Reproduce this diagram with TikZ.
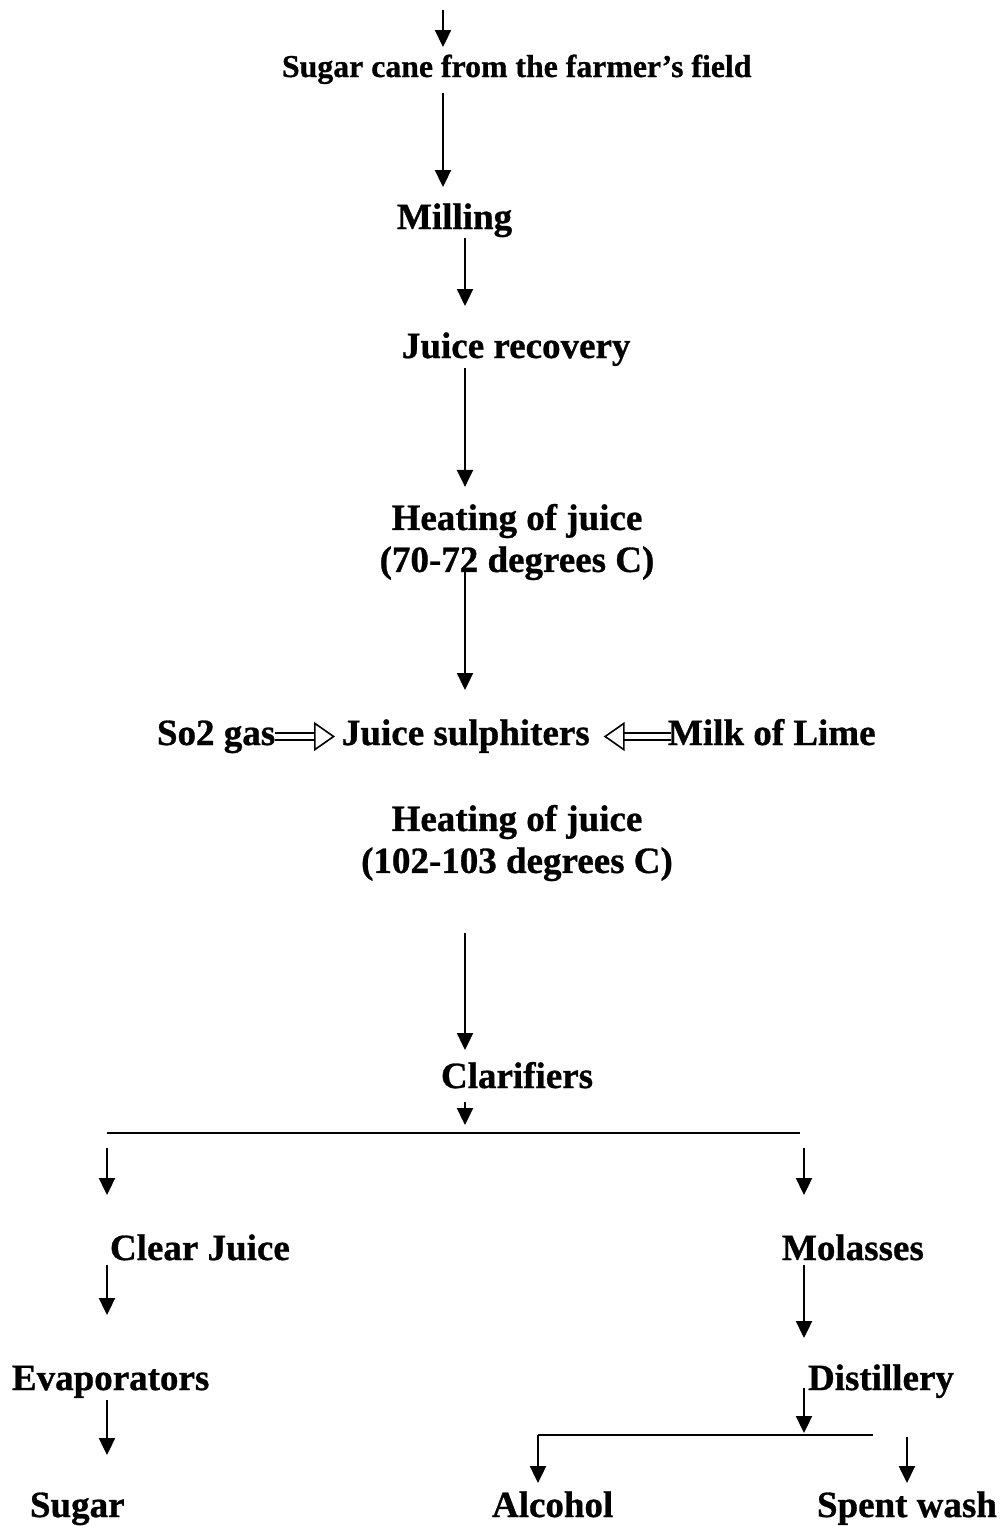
\documentclass[tikz,border=0pt]{standalone}
\usepackage{fontspec}
\setmainfont{Liberation Serif}[BoldFeatures={FakeBold=0.8}]
\usetikzlibrary{positioning, arrows.meta, calc}
\tikzset{
    stage/.style={
        font=\bfseries\fontsize{37}{42}\selectfont,
        inner sep=0pt, outer sep=0pt,
        text height=25pt, text depth=8pt
    },
    stage-two/.style={
        font=\bfseries\fontsize{37}{42}\selectfont,
        inner sep=0pt, outer sep=0pt, align=center
    },
    stage-top/.style={
        stage, font=\bfseries\fontsize{31.8}{36}\selectfont,
        text height=21pt, text depth=7pt
    },
    pipe/.style={
        -{Triangle[length=17pt, width=16pt]},
        line width=2.3pt, draw=black
    },
    feed/.style={
        double, double distance=5pt, line width=1.6pt,
        -{Triangle[open, length=21pt, width=29pt, line width=1.6pt]}
    },
    splitline/.style={line width=1.8pt, draw=black},
}

\begin{document}
\begin{tikzpicture}[x=1pt, y=-1pt]
\useasboundingbox (0,0) rectangle (1004,1526);

% ---- arrow columns ----
\coordinate (colA) at (443,0);
\coordinate (colB) at (465,0);
\coordinate (colL) at (107,0);
\coordinate (colR) at (804,0);

% ---- cane to clarifiers ----
\coordinate (start) at (443,10);
\node[stage-top, anchor=base west] (cane) at (282,77) {Sugar cane from the farmer’s field};
\node[stage, anchor=base west] (mill) at (397,229) {Milling};
\node[stage, anchor=base west] (recov) at (402,358) {Juice recovery};
\node[stage-two] (heat1) at (517,542) {Heating of juice\\(70-72 degrees C)};
\node[stage, anchor=base west] (so2) at (157,745) {So2 gas};
\node[stage, anchor=base west] (sulph) at (342,745) {Juice sulphiters};
\node[stage, anchor=base west] (milk) at (668,745) {Milk of Lime};
\node[stage-two] (heat2) at (517,843) {Heating of juice\\(102-103 degrees C)};
\node[stage, anchor=base west] (clar) at (441,1088) {Clarifiers};

\draw[pipe, shorten >=9pt] (start) -- (cane.north -| colA);
\draw[pipe, shorten <=9pt, shorten >=17pt] (cane.south -| colA) -- (mill.north -| colA);
\draw[pipe, shorten <=1pt, shorten >=27pt] (mill.south -| colB) -- (recov.north -| colB);
\draw[pipe, shorten <=2pt, shorten >=17pt] (recov.south -| colB) -- (heat1.north -| colB);
\draw[pipe, shorten <=-8pt, shorten >=30pt] (heat1.south -| colB) -- (sulph.north -| colB);
\draw[pipe, shorten <=52pt, shorten >=13pt] (heat2.south -| colB) -- (clar.north -| colB);
\draw[feed, shorten >=7pt] (so2.east) -- (sulph.west);
\draw[feed, shorten <=-3pt, shorten >=14pt] (milk.west) -- (sulph.east);

% ---- split after clarifiers ----
\coordinate (splitL) at (107,1133);
\coordinate (splitR) at (800,1133);
\node[stage, anchor=base west] (cjuice) at (110,1260) {Clear Juice};
\node[stage, anchor=base west] (molas) at (782,1260) {Molasses};
\node[stage, anchor=base west] (evap) at (12,1390) {Evaporators};
\node[stage, anchor=base west] (distil) at (808,1390) {Distillery};

\draw[pipe, shorten <=6pt, shorten >=8pt] (clar.south -| colB) -- (splitL -| colB);
\draw[splitline] (splitL) -- (splitR);
\draw[pipe, shorten <=15pt, shorten >=40pt] (splitL) -- (cjuice.north -| splitL);
\draw[pipe, shorten <=15pt, shorten >=40pt] (splitR -| colR) -- (molas.north -| colR);
\draw[pipe, shorten <=-3pt, shorten >=50pt] (cjuice.south -| colL) -- (evap.north -| colL);
\draw[pipe, shorten <=-3pt, shorten >=27pt] (molas.south -| colR) -- (distil.north -| colR);

% ---- products ----
\coordinate (forkL) at (538,1435);
\coordinate (forkR) at (873,1435);
\node[stage, anchor=base west] (sugar) at (30,1517) {Sugar};
\node[stage, anchor=base west] (alc) at (492,1517) {Alcohol};
\node[stage, anchor=base west] (spent) at (817,1517) {Spent wash};

\draw[pipe, shorten <=2pt, shorten >=37pt] (evap.south -| colL) -- (sugar.north -| colL);
\draw[pipe, shorten <=-10pt, shorten >=2pt] (distil.south -| colR) -- (forkL -| colR);
\draw[splitline] (forkR) -- (forkL);
\draw[pipe, shorten >=9pt] (forkL) -- (alc.north -| forkL);
\draw[pipe, shorten <=2pt, shorten >=9pt] (forkR -| spent.north) -- (spent.north);

\end{tikzpicture}
\end{document}
